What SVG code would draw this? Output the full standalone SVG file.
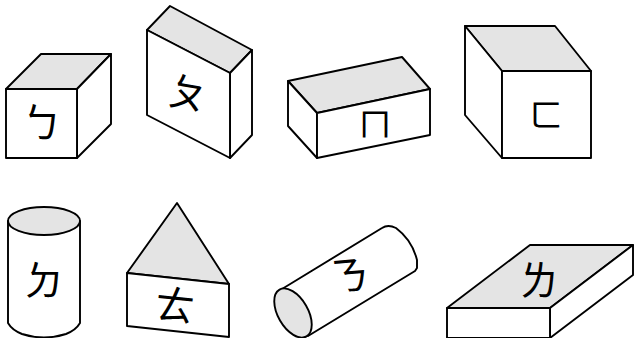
<svg xmlns="http://www.w3.org/2000/svg" width="636" height="338" viewBox="0 0 636 338">
<style>
.f{fill:#fff;stroke:#000;stroke-width:1.9;stroke-linejoin:round}
.t{fill:#e4e4e4;stroke:#000;stroke-width:1.9;stroke-linejoin:round}
.c{font-family:"Noto Sans CJK TC","Noto Sans CJK SC",sans-serif;font-size:40px;text-anchor:middle;fill:#000}
.s{font-size:33px}
</style>
<rect width="636" height="338" fill="#fff"/>
<g id="box-b">
<path class="t" d="M6 89L41 54H111L77 89Z"/><path class="f" d="M111 54V124L77 158V89Z"/><rect class="f" x="6" y="89" width="71" height="69"/>
<text class="c" x="42" y="137">ㄅ</text></g>
<g id="box-p">
<path class="t" d="M147 30L170 6L252 50L230 73Z"/><path class="f" d="M252 50V135L230 158V73Z"/><path class="f" d="M147 30L230 73V158L147 115Z"/>
<text class="c" x="188" y="108" transform="rotate(10 188 93)">ㄆ</text></g>
<g id="box-m">
<path class="t" d="M288 81L402 57L430 89L317 113Z"/><path class="f" d="M288 81V126L317 158V113Z"/><path class="f" d="M317 113L430 89V135L317 158Z"/>
<text class="c s" x="375" y="136">ㄇ</text></g>
<g id="box-f">
<path class="t" d="M465 26H555L591 71H502Z"/><path class="f" d="M465 26V115L502 158V71Z"/><rect class="f" x="502" y="71" width="89" height="87"/>
<text class="c s" x="546" y="127">ㄈ</text></g>
<g id="cyl-d">
<path class="f" d="M8 221V323Q12 330 22 334Q44 341 66 334Q76 330 80 323V221Z"/><ellipse class="t" cx="44" cy="221" rx="36" ry="14"/>
<text class="c" x="44" y="295">ㄉ</text></g>
<g id="prism-t">
<path class="t" d="M127 273L177 203L229 284Z"/><path class="f" d="M127 273L229 284V337L127 326Z"/>
<text class="c" x="175" y="320" transform="rotate(6 175 305)">ㄊ</text></g>
<g id="cyl-n">
<path class="f" d="M282 289L382 228Q388 224 396 228Q412 240 417 260V268L415 271L308 336Z"/><ellipse class="t" cx="293" cy="313" rx="15" ry="27" transform="rotate(-30 293 313)"/>
<text class="c" x="349" y="290" transform="rotate(-5 349 275)">ㄋ</text></g>
<g id="slab-l">
<path class="t" d="M447 308L530 245H633L550 308Z"/><path class="f" d="M633 245V275L550 338V308Z"/><rect class="f" x="447" y="308" width="103" height="30"/>
<text class="c" x="539" y="295">ㄌ</text></g>
</svg>
